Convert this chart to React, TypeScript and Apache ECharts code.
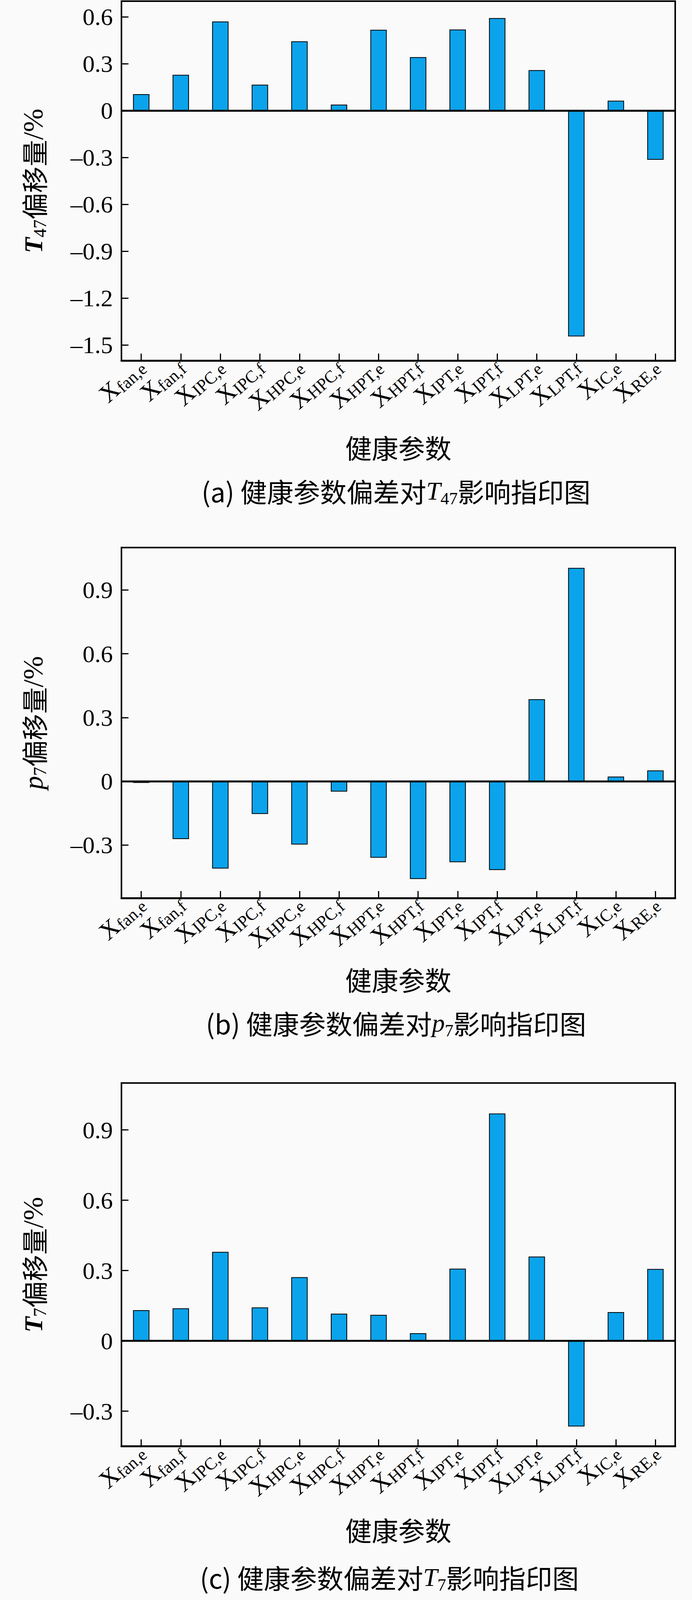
import React, { useEffect, useRef } from "react";
import * as echarts from "echarts";

const subscripts = ["fan,e", "fan,f", "IPC,e", "IPC,f", "HPC,e", "HPC,f", "HPT,e", "HPT,f", "IPT,e", "IPT,f", "LPT,e", "LPT,f", "IC,e", "RE,e"];
const t47Values = [0.105, 0.229, 0.57, 0.166, 0.443, 0.038, 0.517, 0.342, 0.519, 0.592, 0.259, -1.445, 0.063, -0.315];
const p7Values = [-0.008, -0.272, -0.411, -0.154, -0.298, -0.049, -0.36, -0.46, -0.381, -0.418, 0.386, 1.004, 0.022, 0.051];
const t7Values = [0.131, 0.139, 0.38, 0.143, 0.272, 0.116, 0.111, 0.033, 0.308, 0.97, 0.36, -0.365, 0.123, 0.307];
const ticksA = [-1.5, -1.2, -0.9, -0.6, -0.3, 0, 0.3, 0.6];
const ticksB = [-0.3, 0, 0.3, 0.6, 0.9];
const ticksC = [-0.3, 0, 0.3, 0.6, 0.9];
const rangeA = [-1.6, 0.7];
const rangeB = [-0.55, 1.1];
const rangeC = [-0.45, 1.1];
const xTitle = "健康参数";

const SERIF = "'Liberation Serif', 'Times New Roman', serif";
const CJK = "'Noto Sans CJK SC', 'Noto Sans CJK JP', sans-serif";
const BAR = "#0BA3EB";

const W = 1772;
const REF_H = 4135;
const LEFT = 311;
const PW = 1418;
const panels = [
  { top: 3, height: 929, values: t47Values, ticks: ticksA, range: rangeA, sym: "T", sub: "47", italicBold: true, capY: 1268, capX: 1014, titleY: 1155, letter: "(a)" },
  { top: 1415, height: 906, values: p7Values, ticks: ticksB, range: rangeB, sym: "p", sub: "7", italicBold: false, capY: 2643, capX: 1014, titleY: 2530, letter: "(b)" },
  { top: 2799, height: 939, values: t7Values, ticks: ticksC, range: rangeC, sym: "T", sub: "7", italicBold: true, capY: 4076, capX: 997, titleY: 3953, letter: "(c)" },
];

function fmtTick(v: number): string {
  if (Math.abs(v) < 1e-9) return "0";
  const s = Math.abs(v).toFixed(1);
  return v < 0 ? "\u2013" + s : s;
}

function buildOption(sy: number) {
  const grid: any[] = [];
  const xAxis: any[] = [];
  const yAxis: any[] = [];
  const series: any[] = [];
  const graphic: any[] = [];
  panels.forEach((p, i) => {
    grid.push({
      left: LEFT,
      top: p.top * sy,
      width: PW,
      height: p.height * sy,
      show: true,
      borderColor: "#000",
      borderWidth: 4,
      backgroundColor: "transparent",
    });
    xAxis.push({
      type: "category",
      gridIndex: i,
      data: subscripts,
      axisLine: { show: true, onZero: false, lineStyle: { color: "#000", width: 5 } },
      axisTick: { show: true, inside: true, alignWithLabel: true, length: 18, lineStyle: { color: "#000", width: 3 } },
      axisLabel: {
        interval: 0,
        rotate: 42,
        margin: 6,
        color: "#000",
        formatter: (v: string) => `{x|X}{s|${v}}`,
        rich: {
          x: { fontFamily: SERIF, fontSize: 64, lineHeight: 68, color: "#000" },
          s: { fontFamily: SERIF, fontSize: 44, lineHeight: 44, verticalAlign: "bottom", color: "#000" },
        },
      },
      splitLine: { show: false },
    });
    yAxis.push({
      type: "value",
      gridIndex: i,
      min: p.range[0],
      max: p.range[1],
      axisLine: { show: true, lineStyle: { color: "#000", width: 4 } },
      axisTick: { show: true, inside: true, length: 18, customValues: p.ticks, lineStyle: { color: "#000", width: 3 } },
      axisLabel: {
        customValues: p.ticks,
        margin: 22,
        color: "#000",
        fontFamily: SERIF,
        fontSize: 62,
        formatter: (v: number) => fmtTick(v),
      },
      splitLine: { show: false },
    });
    series.push({
      type: "bar",
      xAxisIndex: i,
      yAxisIndex: i,
      data: p.values,
      barWidth: 42,
      itemStyle: { color: BAR, borderColor: "#000", borderWidth: 2 },
      markLine: {
        silent: true,
        symbol: ["none", "none"],
        label: { show: false },
        lineStyle: { color: "#000", width: 5, type: "solid" },
        data: [{ yAxis: 0 }],
      },
    });
    const symStyle = p.italicBold
      ? { fontFamily: SERIF, fontSize: 66, fontStyle: "italic", fontWeight: "bold", lineHeight: 80, color: "#000" }
      : { fontFamily: SERIF, fontSize: 70, fontStyle: "italic", lineHeight: 80, color: "#000" };
    graphic.push({
      type: "text",
      x: 85,
      y: (p.top + p.height / 2) * sy,
      rotation: Math.PI / 2,
      style: {
        text: `{sym|${p.sym}}{sb|${p.sub}}{cn|偏移量}{pc|/%}`,
        align: "center",
        verticalAlign: "middle",
        rich: {
          sym: symStyle,
          sb: { fontFamily: SERIF, fontSize: 46, lineHeight: 46, verticalAlign: "bottom", color: "#000" },
          cn: { fontFamily: CJK, fontSize: 68, lineHeight: 80, color: "#000" },
          pc: { fontFamily: SERIF, fontSize: 72, lineHeight: 80, color: "#000" },
        },
      },
    });
    graphic.push({
      type: "text",
      x: LEFT + PW / 2,
      y: p.titleY * sy,
      style: {
        text: xTitle,
        fontFamily: CJK,
        fontSize: 68,
        fill: "#000",
        align: "center",
        verticalAlign: "middle",
      },
    });
    graphic.push({
      type: "text",
      x: p.capX,
      y: p.capY * sy,
      style: {
        text: `{cn|${p.letter} 健康参数偏差对}{sym|${p.sym}}{sb|${p.sub}}{cn|影响指印图}`,
        align: "center",
        verticalAlign: "middle",
        rich: {
          cn: { fontFamily: CJK, fontSize: 68, lineHeight: 84, color: "#000" },
          sym: { fontFamily: SERIF, fontSize: 66, fontStyle: "italic", lineHeight: 84, color: "#000" },
          sb: { fontFamily: SERIF, fontSize: 44, lineHeight: 44, verticalAlign: "bottom", color: "#000" },
        },
      },
    });
  });
  return {
    animation: false,
    backgroundColor: "#fafafa",
    grid,
    xAxis,
    yAxis,
    series,
    graphic,
  };
}

function viewportHeight(): number {
  const h = typeof window !== "undefined" ? window.innerHeight : REF_H;
  if (!h || h > REF_H || h < REF_H * 0.8) return REF_H;
  return h;
}

export default function App() {
  const ref = useRef<HTMLDivElement>(null);
  const H = viewportHeight();
  useEffect(() => {
    document.body.style.margin = "0";
    document.body.style.background = "#fafafa";
    document.body.style.overflow = "hidden";
    if (!ref.current) return;
    const chart = echarts.init(ref.current, null, { renderer: "svg" });
    chart.setOption(buildOption(H / REF_H) as any);
    return () => {
      chart.dispose();
    };
  }, [H]);
  return <div ref={ref} style={{ width: W, height: H }} />;
}
